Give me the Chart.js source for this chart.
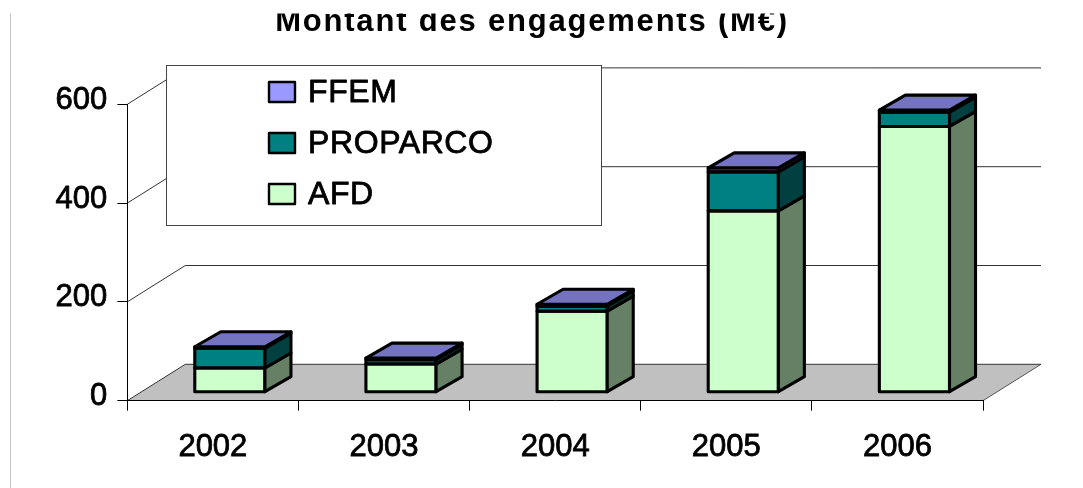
<!DOCTYPE html>
<html>
<head>
<meta charset="utf-8">
<script src="https://cdn.jsdelivr.net/npm/chart.js@4/dist/chart.umd.min.js"></script>
<style>
  html, body { margin: 0; padding: 0; background: #fff; }
  canvas { display: block; }
</style>
</head>
<body>
<canvas id="myChart" width="1083" height="488"></canvas>
<script>
const chartTitle = "Montant des engagements (M€)";
const years = ["2002", "2003", "2004", "2005", "2006"];
const seriesNames = ["AFD", "PROPARCO", "FFEM"];
const afd = [49, 57, 164, 367, 538];
const proparco = [40, 9, 10, 79, 29];
const ffem = [3, 3, 4, 8, 4];
const yTicks = [0, 200, 400, 600];

const frontColors = ["#CCFFCC", "#008080", "#9999FF"];
const sideColors = ["#668066", "#004040", "#4C4C80"];
const topColor = "#7373BF";

const FONT = '"Liberation Sans", Arial, sans-serif';

// depth offsets for the 3d look
const WALL_DX = 58, WALL_DY = -36.4;
const BAR_SHIFT_X = 17, BAR_SHIFT_Y = -8.5;
const BAR_DX = 26, BAR_DY = -15;
const EDGE = 3.1;

function poly(ctx, pts, fill, stroke, lw) {
  ctx.beginPath();
  ctx.moveTo(pts[0][0], pts[0][1]);
  for (let i = 1; i < pts.length; i++) ctx.lineTo(pts[i][0], pts[i][1]);
  ctx.closePath();
  if (fill) { ctx.fillStyle = fill; ctx.fill(); }
  if (stroke) { ctx.strokeStyle = stroke; ctx.lineWidth = lw; ctx.stroke(); }
}

const threeD = {
  id: "threeD",
  beforeDraw(chart) {
    const ctx = chart.ctx;
    const ca = chart.chartArea;
    const y = chart.scales.y;
    const y0 = y.getPixelForValue(0);
    ctx.save();
    // floor
    poly(ctx, [[ca.left, y0], [ca.right, y0], [ca.right + WALL_DX, y0 + WALL_DY], [ca.left + WALL_DX, y0 + WALL_DY]], "#C0C0C0", null, 0);
    ctx.strokeStyle = "#555";
    ctx.lineWidth = 1;
    ctx.beginPath();
    ctx.moveTo(ca.right, y0);
    ctx.lineTo(ca.right + WALL_DX, y0 + WALL_DY);
    ctx.stroke();
    // side wall diagonals + back wall gridlines
    ctx.strokeStyle = "#333";
    yTicks.forEach(function (v) {
      const py = y.getPixelForValue(v);
      ctx.beginPath();
      ctx.moveTo(ca.left, py);
      ctx.lineTo(ca.left + WALL_DX, py + WALL_DY);
      ctx.lineTo(ca.right + WALL_DX, py + WALL_DY);
      ctx.stroke();
    });
    ctx.restore();
  },
  beforeDatasetsDraw(chart) {
    chart.ctx.save();
    chart.ctx.translate(BAR_SHIFT_X, BAR_SHIFT_Y);
  },
  afterDatasetsDraw(chart) {
    const ctx = chart.ctx;
    ctx.lineJoin = "round";
    const n = chart.data.datasets.length;
    for (let d = 0; d < n; d++) {
      const meta = chart.getDatasetMeta(d);
      meta.data.forEach(function (bar) {
        const left = bar.x - bar.width / 2;
        const right = bar.x + bar.width / 2;
        const top = Math.min(bar.y, bar.base);
        const bottom = Math.max(bar.y, bar.base);
        poly(ctx, [[left, top], [right, top], [right, bottom], [left, bottom]], null, "#000", EDGE);
        poly(ctx, [[right, top], [right + BAR_DX, top + BAR_DY], [right + BAR_DX, bottom + BAR_DY], [right, bottom]], sideColors[d], "#000", EDGE);
        if (d === n - 1) {
          poly(ctx, [[left, top], [left + BAR_DX, top + BAR_DY], [right + BAR_DX, top + BAR_DY], [right, top]], topColor, "#000", EDGE);
        }
      });
    }
    ctx.restore();
  },
  afterDraw(chart) {
    const ctx = chart.ctx;
    ctx.save();
    // thin page border on the left
    ctx.strokeStyle = "#c4c4c4";
    ctx.lineWidth = 1;
    ctx.beginPath();
    ctx.moveTo(10.5, 13.5);
    ctx.lineTo(10.5, 488);
    ctx.stroke();

    // legend
    ctx.fillStyle = "#fff";
    ctx.fillRect(166.5, 65.5, 435, 160);
    ctx.strokeStyle = "#444";
    ctx.strokeRect(166.5, 65.5, 435, 160);
    ctx.font = "32px " + FONT;
    ctx.letterSpacing = "0.6px";
    ctx.textBaseline = "middle";
    ctx.textAlign = "left";
    ctx.lineJoin = "round";
    const rows = [92, 143, 194];
    for (let i = 0; i < seriesNames.length; i++) {
      const d = seriesNames.length - 1 - i;
      ctx.fillStyle = frontColors[d];
      ctx.fillRect(269, rows[i] - 10, 26, 20);
      ctx.strokeStyle = "#000";
      ctx.lineWidth = 2.4;
      ctx.strokeRect(269, rows[i] - 10, 26, 20);
      ctx.fillStyle = "#000";
      ctx.lineWidth = 0.8;
      ctx.strokeText(seriesNames[d], 308, rows[i] + 1);
      ctx.fillText(seriesNames[d], 308, rows[i] + 1);
    }

    // title, top cut off like in the source picture
    ctx.beginPath();
    ctx.rect(0, 13.5, chart.width, chart.height);
    ctx.clip();
    ctx.font = "bold 31px " + FONT;
    ctx.letterSpacing = "1.8px";
    ctx.textAlign = "center";
    ctx.textBaseline = "alphabetic";
    ctx.fillStyle = "#000";
    ctx.fillText(chartTitle, 532, 30.5);
    ctx.restore();
  }
};

const canvas = document.getElementById("myChart");
const ctx = canvas.getContext("2d");

const chartData = {
  labels: years,
  datasets: [afd, proparco, ffem].map(function (vals, i) {
    return {
      label: seriesNames[i],
      data: vals,
      backgroundColor: frontColors[i],
      borderWidth: 0,
      barPercentage: 0.41,
      categoryPercentage: 1,
      clip: false
    };
  })
};

const tickFont = { family: FONT, size: 31 };

new Chart(ctx, {
  type: "bar",
  data: chartData,
  plugins: [threeD],
  options: {
    responsive: false,
    animation: false,
    layout: { padding: { top: 104.3, right: 100, bottom: 0, left: 0 } },
    plugins: {
      legend: { display: false },
      title: { display: false },
      tooltip: { enabled: false }
    },
    scales: {
      x: {
        stacked: true,
        offset: true,
        grid: { display: true, offset: true, drawOnChartArea: false, drawTicks: true, tickLength: 10, color: "#000" },
        border: { display: true, color: "#000", width: 1 },
        ticks: { color: "#000", font: tickFont, padding: 18, textStrokeColor: "#000", textStrokeWidth: 0.8 },
        afterFit: function (s) { s.height = 87.3; }
      },
      y: {
        stacked: true,
        min: 0,
        max: 600,
        grid: { display: true, drawOnChartArea: false, drawTicks: true, tickLength: 10, color: "#000" },
        border: { display: true, color: "#000", width: 1 },
        ticks: { stepSize: 200, color: "#000", font: tickFont, padding: 10, labelOffset: -4, textStrokeColor: "#000", textStrokeWidth: 0.8 },
        afterFit: function (s) { s.width = 127.3; }
      }
    }
  }
});
</script>
</body>
</html>
